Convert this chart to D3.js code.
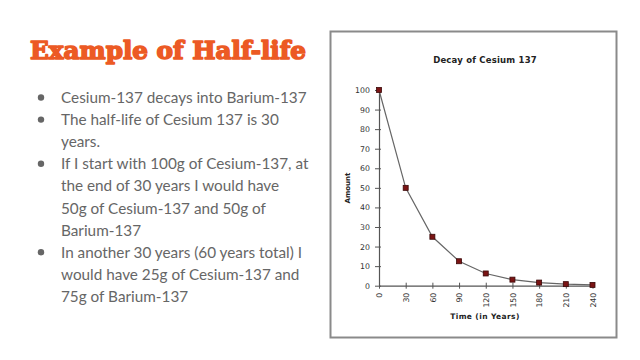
<!DOCTYPE html>
<html>
<head>
<meta charset="utf-8">
<script src="https://cdn.jsdelivr.net/npm/d3@7"></script>
<style>
  html, body { margin: 0; padding: 0; background: #fff; }
  svg { display: block; }
</style>
</head>
<body>
<svg id="c" width="640" height="360"></svg>
<script>
const slideTitle = "Example of Half-life";
const bullets = [
  ["Cesium-137 decays into Barium-137"],
  ["The half-life of Cesium 137 is 30", "years."],
  ["If I start with 100g of Cesium-137, at", "the end of 30 years I would have", "50g of Cesium-137 and 50g of", "Barium-137"],
  ["In another 30 years (60 years total) I", "would have 25g of Cesium-137 and", "75g of Barium-137"]
];
const chartTitle = "Decay of Cesium 137";
const xLabel = "Time (in Years)";
const yLabel = "Amount";
const years = [0, 30, 60, 90, 120, 150, 180, 210, 240];
const amounts = [100, 50, 25, 12.5, 6.25, 3.1, 1.6, 0.8, 0.4];
const xTicks = [0, 30, 60, 90, 120, 150, 180, 210, 240];
const yTicks = [0, 10, 20, 30, 40, 50, 60, 70, 80, 90, 100];

const svg = d3.select("#c");

// Slide title
svg.append("text")
  .attr("x", 30).attr("y", 59)
  .attr("font-family", "DejaVu Serif").attr("font-weight", "900")
  .attr("font-size", 25)
  .attr("fill", "#ec5a24")
  .attr("stroke", "#ec5a24").attr("stroke-width", 1.6).attr("stroke-linejoin", "round")
  .attr("textLength", 276).attr("lengthAdjust", "spacingAndGlyphs")
  .text(slideTitle);

// Bullets
let lineIdx = 0;
const baseY = 103, lineH = 22.1;
bullets.forEach(b => {
  svg.append("circle")
    .attr("cx", 41).attr("cy", baseY + lineIdx * lineH - 5.5)
    .attr("r", 3.2).attr("fill", "#666");
  b.forEach(line => {
    svg.append("text")
      .attr("x", 61).attr("y", baseY + lineIdx * lineH)
      .attr("font-family", "Lato").attr("font-size", 15.3)
      .attr("fill", "#666")
      .text(line);
    lineIdx++;
  });
});

// Chart frame
svg.append("rect")
  .attr("x", 330.5).attr("y", 31.5).attr("width", 286).attr("height", 306)
  .attr("fill", "#fff").attr("stroke", "#8a8a8a").attr("stroke-width", 2);

const x = d3.scaleLinear().domain([0, 240]).range([379, 592.5]);
const y = d3.scaleLinear().domain([0, 100]).range([285.7, 90]);

svg.append("text")
  .attr("x", 485).attr("y", 62.5)
  .attr("text-anchor", "middle")
  .attr("font-family", "DejaVu Sans").attr("font-weight", "bold")
  .attr("font-size", 8.5).attr("fill", "#222")
  .attr("letter-spacing", 0.2)
  .text(chartTitle);

// Y axis
const yAxis = svg.append("g")
  .attr("transform", `translate(${x(0)},0)`)
  .call(d3.axisLeft(y).tickValues(yTicks).tickSize(4).tickPadding(5).tickSizeOuter(0));
yAxis.selectAll("text").attr("font-family", "DejaVu Sans").attr("font-size", 7.8).attr("fill", "#333");
yAxis.selectAll("line").attr("stroke", "#555").attr("x2", -4).attr("x1", 2);
yAxis.select(".domain").attr("stroke", "#555").attr("stroke-width", 1.2);

// X axis
const xAxis = svg.append("g")
  .attr("transform", `translate(0,${y(0)})`)
  .call(d3.axisBottom(x).tickValues(xTicks).tickSize(3).tickPadding(0).tickSizeOuter(0));
xAxis.selectAll("line").attr("stroke", "#555").attr("y1", -3).attr("y2", 3);
xAxis.select(".domain").attr("stroke", "#555").attr("stroke-width", 1.2);
xAxis.selectAll("text")
  .attr("font-family", "DejaVu Sans").attr("font-size", 7.8).attr("fill", "#333")
  .attr("text-anchor", "end")
  .attr("transform", "rotate(-90)")
  .attr("x", -7).attr("y", 0).attr("dy", "0.35em");

// Axis labels
svg.append("text")
  .attr("x", 485).attr("y", 318.5)
  .attr("text-anchor", "middle")
  .attr("font-family", "DejaVu Sans").attr("font-weight", "bold")
  .attr("font-size", 7.5).attr("fill", "#222").attr("letter-spacing", 0.4)
  .text(xLabel);
svg.append("text")
  .attr("transform", `translate(349.5,188) rotate(-90)`)
  .attr("text-anchor", "middle")
  .attr("font-family", "DejaVu Sans").attr("font-weight", "bold")
  .attr("font-size", 7).attr("fill", "#222")
  .text(yLabel);

// Line
const data = years.map((t, i) => ({ t, a: amounts[i] }));
svg.append("path")
  .datum(data)
  .attr("fill", "none").attr("stroke", "#666").attr("stroke-width", 1.2)
  .attr("d", d3.line().x(d => x(d.t)).y(d => y(d.a)));

// Markers
svg.selectAll("rect.pt").data(data).join("rect")
  .attr("class", "pt")
  .attr("x", d => x(d.t) - 2.5).attr("y", d => y(d.a) - 2.5)
  .attr("width", 5).attr("height", 5)
  .attr("fill", "#7a1414").attr("stroke", "#3a0808").attr("stroke-width", 0.8);
</script>
</body>
</html>
